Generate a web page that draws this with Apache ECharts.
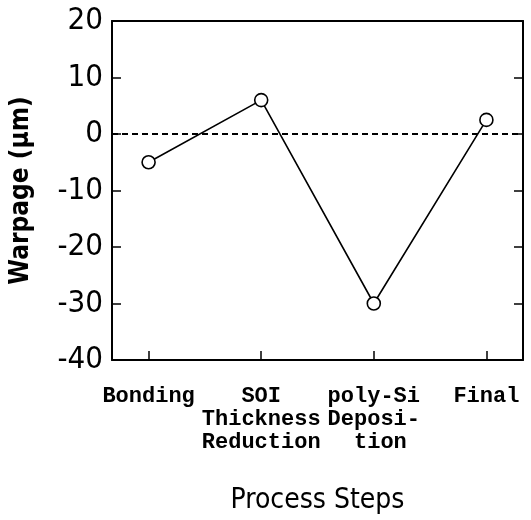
<!DOCTYPE html>
<html>
<head>
<meta charset="utf-8">
<script src="https://cdn.jsdelivr.net/npm/echarts@6/dist/echarts.min.js"></script>
<style>
html,body{margin:0;padding:0;background:#fff;}
#c{width:531px;height:520px;}
</style>
</head>
<body>
<div id="c"></div>
<script>
var categories = ['Bonding', 'SOI\nThickness\nReduction', 'poly-Si\nDeposi-\n tion', 'Final'];
var warpage = [-5, 6, -30, 2.5];
var yTicks = [-40, -30, -20, -10, 0, 10, 20];

var condensed = '"DejaVu Sans Condensed","Liberation Sans Narrow",sans-serif';
var mono = '"Liberation Mono","DejaVu Sans Mono",monospace';

var chart = echarts.init(document.getElementById('c'), null, {renderer: 'canvas'});
var positions = categories.map(function (c, i) { return i; });

chart.setOption({
  animation: false,
  backgroundColor: '#fff',
  grid: {left: 106, right: 8, top: 21, bottom: 160, containLabel: false},
  xAxis: [{
    type: 'value',
    min: -0.325,
    max: 3.325,
    position: 'bottom',
    splitLine: {show: false},
    axisLine: {show: true, onZero: false, lineStyle: {color: '#000', width: 2}},
    axisTick: {show: true, inside: true, length: 9, customValues: positions, lineStyle: {color: '#000', width: 1.5}},
    axisLabel: {
      show: true,
      customValues: positions,
      formatter: function (v) { return categories[Math.round(v)]; },
      color: '#000',
      fontFamily: mono,
      fontWeight: 'bold',
      fontSize: 22,
      lineHeight: 23,
      margin: 25
    },
    name: 'Process Steps',
    nameLocation: 'middle',
    nameGap: 127,
    nameTextStyle: {color: '#000', fontFamily: condensed, fontSize: 28}
  }, {
    type: 'value',
    min: -0.325,
    max: 3.325,
    position: 'top',
    splitLine: {show: false},
    axisLine: {show: true, onZero: false, lineStyle: {color: '#000', width: 2}},
    axisTick: {show: false},
    axisLabel: {show: false}
  }],
  yAxis: [{
    type: 'value',
    min: yTicks[0],
    max: yTicks[yTicks.length - 1],
    interval: 10,
    position: 'left',
    splitLine: {show: false},
    axisLine: {show: true, onZero: false, lineStyle: {color: '#000', width: 2}},
    axisTick: {show: true, inside: true, length: 9, lineStyle: {color: '#000', width: 1.5}},
    axisLabel: {color: '#000', fontFamily: condensed, fontSize: 31, margin: 9, padding: [12, 0, 0, 0]},
    name: 'Warpage (\u03bcm)',
    nameLocation: 'middle',
    nameGap: 78,
    nameTextStyle: {color: '#000', fontFamily: condensed, fontWeight: 'bold', fontSize: 26}
  }, {
    type: 'value',
    min: yTicks[0],
    max: yTicks[yTicks.length - 1],
    interval: 10,
    position: 'right',
    splitLine: {show: false},
    axisLine: {show: true, onZero: false, lineStyle: {color: '#000', width: 2}},
    axisTick: {show: true, inside: true, length: 9, lineStyle: {color: '#000', width: 1.5}},
    axisLabel: {show: false}
  }],
  series: [{
    type: 'line',
    data: warpage.map(function (v, i) { return [positions[i], v]; }),
    symbol: 'circle',
    symbolSize: 13,
    showAllSymbol: true,
    lineStyle: {color: '#000', width: 1.6},
    itemStyle: {color: '#fff', borderColor: '#000', borderWidth: 1.6},
    z: 3,
    markLine: {
      silent: true,
      symbol: 'none',
      label: {show: false},
      lineStyle: {color: '#000', type: [6, 4], width: 2},
      data: [{yAxis: 0}],
      z: 2
    }
  }]
});
</script>
</body>
</html>
